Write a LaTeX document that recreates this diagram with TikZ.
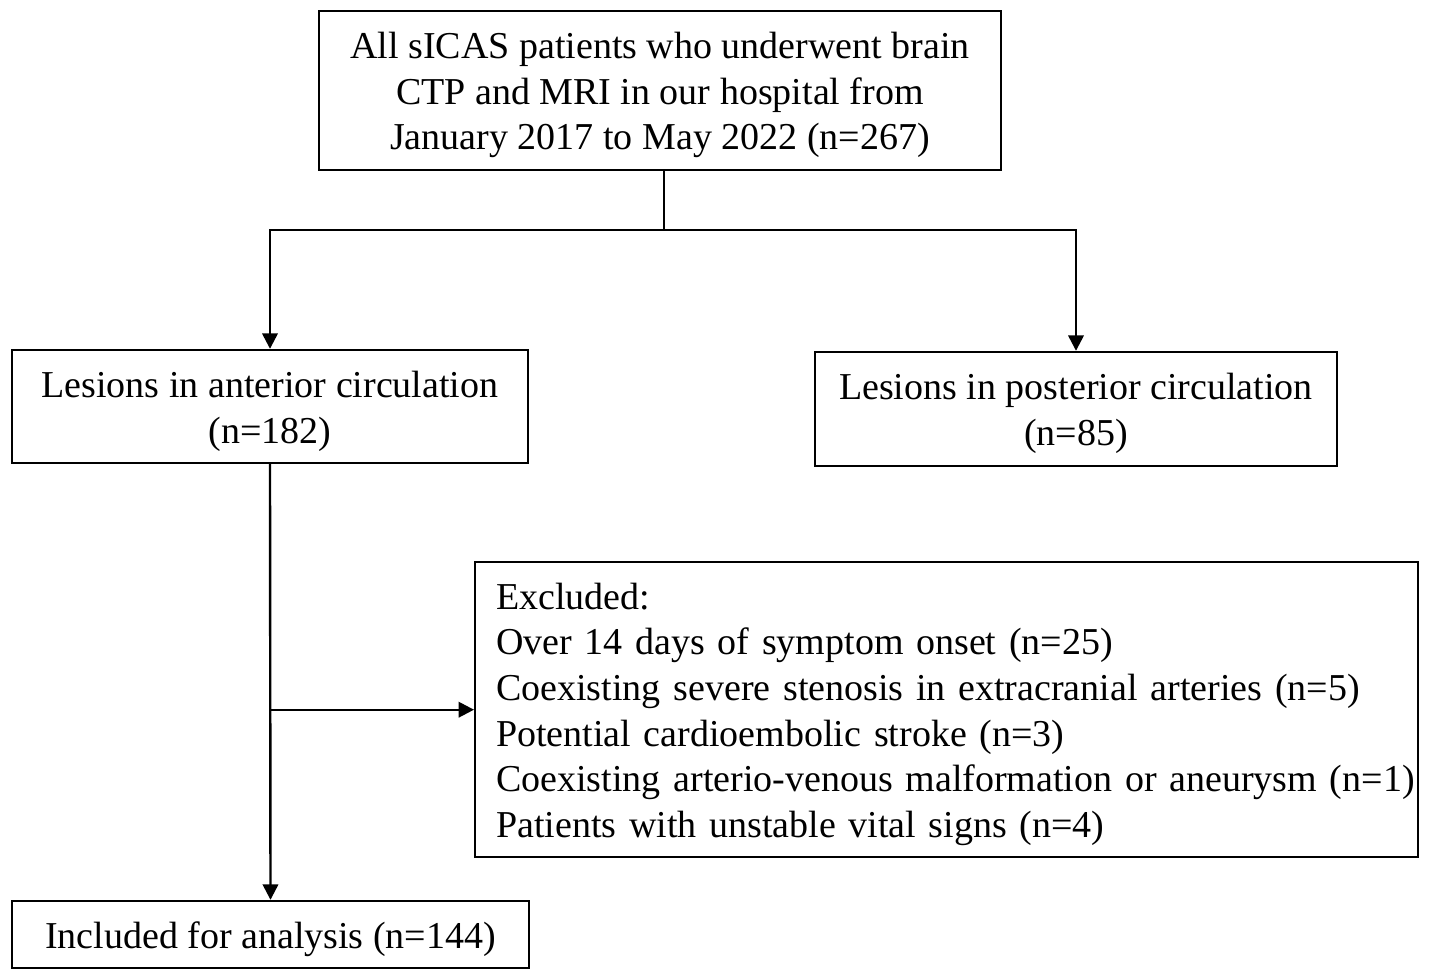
\documentclass[tikz,border=0pt]{standalone}
\usepackage{fontspec}
\setmainfont{Liberation Serif}
\usetikzlibrary{arrows.meta}
\newcommand\mylow[2]{\raisebox{-3.4pt}[\height][\depth]{\begin{tabular}{@{}#1@{}}#2\end{tabular}}}
\begin{document}
\begin{tikzpicture}[x=0.75pt,y=-0.75pt,
  box/.style={draw, line width=1.8pt, inner sep=0pt, align=center},
  conn/.style={line width=1.8pt},
  arr/.style={conn, -{Triangle[length=11.5pt,width=11.5pt]}},
  font=\fontsize{28.5}{34.3}\selectfont]
\useasboundingbox (0,0) rectangle (1429,975);
\node[box, minimum width=511.5pt, minimum height=119.25pt] (top) at (660,90.5)
  {\mylow{c}{All sICAS patients who underwent brain\\CTP and MRI in our hospital from\\January 2017 to May 2022 (n=267)}};
\node[box, minimum width=387pt, minimum height=84.75pt] (left) at (270,406.5)
  {\mylow{c}{Lesions in anterior circulation\\(n=182)}};
\node[box, minimum width=391.5pt, minimum height=85.5pt] (right) at (1076,409)
  {\mylow{c}{Lesions in posterior circulation\\(n=85)}};
\node[box, anchor=north west, minimum width=707.25pt, minimum height=221.25pt, text width=707.25pt, align=left] (excl) at (474,561)
  {\hspace*{15.75pt}\mylow{l}{Excluded:\\
   Over 14 days of symptom onset (n=25)\\
   Coexisting severe stenosis in extracranial arteries (n=5)\\
   Potential cardioembolic stroke (n=3)\\
   Coexisting arterio-venous malformation or aneurysm (n=1)\\
   Patients with unstable vital signs (n=4)}};
\node[box, minimum width=387.75pt, minimum height=50.25pt] (incl) at (270.5,934.5)
  {\mylow{c}{Included for analysis (n=144)}};
\coordinate (j) at (664,230);
\draw[conn] (top.south -| j) -- (j);
\draw[arr] (j) -| (left.north);
\draw[arr] (j) -| (right.north);
\draw[arr] (left.south) -- (incl.north);
\draw[arr] (left.south |- excl.west) -- (excl.west);
\end{tikzpicture}
\end{document}
